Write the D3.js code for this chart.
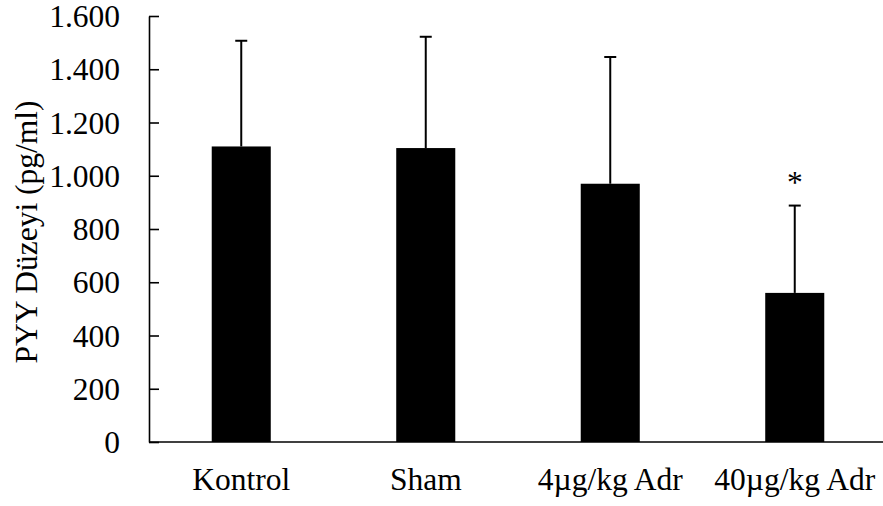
<!DOCTYPE html>
<html>
<head>
<meta charset="utf-8">
<script src="https://cdn.jsdelivr.net/npm/d3@7"></script>
<style>
  html, body { margin: 0; padding: 0; background: #fff; }
  svg text { font-family: "Liberation Serif", "Times New Roman", serif; fill: #000; }
</style>
</head>
<body>
<svg id="chart" width="883" height="506"></svg>
<script>
// Group names and PYY levels (pg/ml): mean and mean + SD
const groups = ["Kontrol", "Sham", "4µg/kg Adr", "40µg/kg Adr"];
const means = [1110, 1104, 970, 560];
const upperSD = [1507, 1522, 1446, 888];
const significance = ["", "", "", "*"];
const yTicks = [0, 200, 400, 600, 800, 1000, 1200, 1400, 1600];
const yTitle = "PYY Düzeyi (pg/ml)";

const svg = d3.select("#chart");
const plotLeft = 149, plotRight = 887, plotTop = 16, plotBottom = 442;
const fontSize = 31.5;

const x = d3.scaleBand().domain(groups).range([plotLeft, plotRight])
  .paddingInner(0.68).paddingOuter(0.34);
const y = d3.scaleLinear().domain([0, 1600]).range([plotBottom, plotTop]);

// Thousands separated by a dot
const fmt = v => d3.format(",")(v).replace(/,/g, ".");

// Bars
svg.append("g").selectAll("rect").data(groups).join("rect")
  .attr("x", d => x(d))
  .attr("width", x.bandwidth())
  .attr("y", (d, i) => y(means[i]))
  .attr("height", (d, i) => y(0) - y(means[i]))
  .attr("fill", "#000");

// Error bars (upper only)
const eb = svg.append("g").attr("stroke", "#000").attr("stroke-width", 2);
groups.forEach((g, i) => {
  const cx = x(g) + x.bandwidth() / 2;
  eb.append("line").attr("x1", cx).attr("x2", cx)
    .attr("y1", y(means[i])).attr("y2", y(upperSD[i]));
  eb.append("line").attr("x1", cx - 6).attr("x2", cx + 6)
    .attr("y1", y(upperSD[i])).attr("y2", y(upperSD[i]));
});

// Significance marks
svg.append("g").selectAll("text").data(groups).join("text")
  .attr("x", d => x(d) + x.bandwidth() / 2)
  .attr("y", (d, i) => y(upperSD[i]) - 13)
  .attr("text-anchor", "middle")
  .attr("font-size", fontSize)
  .text((d, i) => significance[i]);

// Y axis with inward ticks
const yAxis = svg.append("g").attr("transform", `translate(${plotLeft},0)`)
  .call(d3.axisLeft(y).tickValues(yTicks).tickSize(-10).tickSizeOuter(0).tickPadding(0).tickFormat(fmt));
yAxis.select(".domain").attr("stroke", "#000").attr("stroke-width", 1.6);
yAxis.selectAll(".tick line").attr("stroke", "#000").attr("stroke-width", 1.6);
yAxis.selectAll(".tick text")
  .attr("x", -29)
  .attr("dy", "0.34em")
  .attr("font-size", fontSize)
  .attr("font-family", "Liberation Serif, serif")
  .attr("fill", "#000");

// X axis baseline and labels
const xAxis = svg.append("g").attr("transform", `translate(0,${plotBottom})`)
  .call(d3.axisBottom(x).tickSize(0).tickPadding(0));
xAxis.select(".domain").attr("d", `M${plotLeft},0H${plotRight}`).attr("stroke", "#000").attr("stroke-width", 1.6);
xAxis.selectAll(".tick text")
  .attr("y", 48)
  .attr("dy", 0)
  .attr("font-size", fontSize)
  .attr("font-family", "Liberation Serif, serif")
  .attr("fill", "#000");

// Y axis title
svg.append("text")
  .attr("transform", `translate(37,${(plotTop + plotBottom) / 2 + 3}) rotate(-90)`)
  .attr("text-anchor", "middle")
  .attr("font-size", fontSize)
  .text(yTitle);
</script>
</body>
</html>
